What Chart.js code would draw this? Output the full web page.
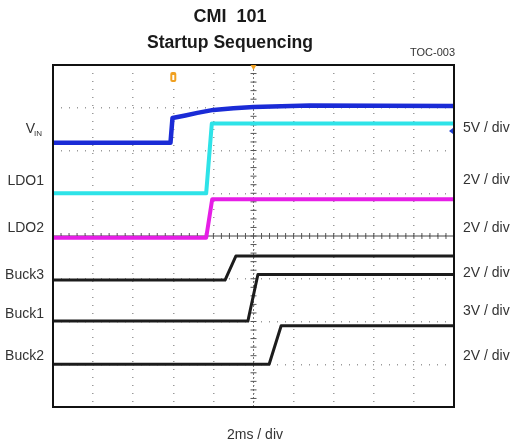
<!DOCTYPE html>
<html>
<head>
<meta charset="utf-8">
<script src="https://cdn.jsdelivr.net/npm/chart.js@4.4.0/dist/chart.umd.min.js"></script>
<style>
  html, body { margin: 0; padding: 0; background: #fff; }
  canvas { display: block; }
</style>
</head>
<body>
<canvas id="scope" width="515" height="447"></canvas>
<script>
// scope screen in divisions: 10 across (2ms/div), 8 high
const vinX = [0, 2.93, 2.98, 3.3, 3.6, 4.0, 4.5, 5.0, 6.4, 10];
const vinY = [6.18, 6.18, 6.76, 6.82, 6.88, 6.95, 6.99, 7.02, 7.05, 7.04];
const ldo1X = [0, 3.82, 3.96, 10];
const ldo1Y = [5.0, 5.0, 6.63, 6.63];
const ldo2X = [0, 3.82, 3.97, 10];
const ldo2Y = [3.96, 3.96, 4.86, 4.86];
const buck3X = [0, 4.29, 4.56, 10];
const buck3Y = [2.97, 2.97, 3.53, 3.53];
const buck1X = [0, 4.86, 5.11, 10];
const buck1Y = [2.01, 2.01, 3.10, 3.10];
const buck2X = [0, 5.39, 5.69, 10];
const buck2Y = [1.0, 1.0, 1.90, 1.90];

const leftLabels = ['LDO1', 'LDO2', 'Buck3', 'Buck1', 'Buck2'];
const rightLabels = ['5V / div', '2V / div', '2V / div', '2V / div', '3V / div', '2V / div'];
const triggerAt = 3.0;

const pts = (xs, ys) => xs.map((x, i) => ({x: x, y: ys[i]}));

const trace = (data, color, w) => ({
  data: data,
  borderColor: color,
  borderWidth: w,
  pointRadius: 0,
  tension: 0,
  borderJoinStyle: 'round',
});

// frame, centre cross with minor ticks, labels
const scopeDeco = {
  id: 'scopeDeco',
  beforeDatasetsDraw(chart) {
    const {ctx, chartArea: a, scales: {x, y}} = chart;
    const cx = x.getPixelForValue(5);
    const cy = y.getPixelForValue(4);
    ctx.save();
    ctx.strokeStyle = '#444';
    ctx.lineWidth = 1;
    ctx.beginPath();
    ctx.moveTo(a.left, cy);
    ctx.lineTo(a.right, cy);
    ctx.stroke();
    ctx.setLineDash([2, 2]);
    ctx.strokeStyle = '#777';
    ctx.beginPath();
    ctx.moveTo(cx, a.top);
    ctx.lineTo(cx, a.bottom);
    ctx.stroke();
    ctx.setLineDash([]);
    ctx.strokeStyle = '#555';
    for (let v = 0; v <= 10; v += 0.2) {
      const px = x.getPixelForValue(v);
      ctx.beginPath();
      ctx.moveTo(px, cy - 3);
      ctx.lineTo(px, cy + 3);
      ctx.stroke();
    }
    for (let v = 0; v <= 8; v += 0.2) {
      const py = y.getPixelForValue(v);
      ctx.beginPath();
      ctx.moveTo(cx - 3, py);
      ctx.lineTo(cx + 3, py);
      ctx.stroke();
    }
    ctx.restore();
  },
  afterDraw(chart) {
    const {ctx, chartArea: a, scales: {x}} = chart;
    ctx.save();
    ctx.strokeStyle = '#111';
    ctx.lineWidth = 2;
    ctx.strokeRect(a.left, a.top, a.right - a.left, a.bottom - a.top);

    // trigger markers
    const tx = x.getPixelForValue(triggerAt);
    ctx.fillStyle = '#f0a020';
    ctx.beginPath();
    ctx.roundRect(tx - 3, a.top + 7, 6, 10, 2);
    ctx.fill();
    ctx.fillStyle = '#fff';
    ctx.fillRect(tx - 1, a.top + 10, 2, 5);
    ctx.fillStyle = '#f0a020';
    const mx = x.getPixelForValue(5);
    ctx.beginPath();
    ctx.moveTo(mx - 3, a.top);
    ctx.lineTo(mx + 3, a.top);
    ctx.lineTo(mx, a.top + 5);
    ctx.fill();
    ctx.fillStyle = '#2040d0';
    ctx.beginPath();
    ctx.moveTo(a.right - 1, 128);
    ctx.lineTo(a.right - 1, 134);
    ctx.lineTo(a.right - 5, 131);
    ctx.fill();

    ctx.fillStyle = '#1a1a1a';
    ctx.textAlign = 'center';
    ctx.textBaseline = 'middle';
    ctx.font = 'bold 18px "Liberation Sans", Arial, sans-serif';
    ctx.fillText('CMI  101', 230, 17);
    ctx.fillText('Startup Sequencing', 230, 43, 166);

    ctx.fillStyle = '#333';
    ctx.font = '11px "Liberation Sans", Arial, sans-serif';
    ctx.textAlign = 'right';
    ctx.fillText('TOC-003', 455, 53);

    ctx.font = '14px "Liberation Sans", Arial, sans-serif';
    ctx.textAlign = 'right';
    ctx.fillText('V', 35, 129);
    ctx.font = '8px "Liberation Sans", Arial, sans-serif';
    ctx.textAlign = 'left';
    ctx.fillText('IN', 34, 134);
    ctx.font = '14px "Liberation Sans", Arial, sans-serif';
    ctx.textAlign = 'right';
    const leftY = [181, 228, 275, 314, 356];
    leftLabels.forEach((t, i) => ctx.fillText(t, 44, leftY[i]));
    ctx.textAlign = 'left';
    const rightY = [128, 180, 228, 273, 311, 356];
    rightLabels.forEach((t, i) => ctx.fillText(t, 463, rightY[i]));
    ctx.textAlign = 'center';
    ctx.fillText('2ms / div', 255, 435);
    ctx.restore();
  }
};

new Chart(document.getElementById('scope'), {
  type: 'line',
  data: {
    datasets: [
      trace(pts(buck2X, buck2Y), '#1c1c1c', 3),
      trace(pts(buck1X, buck1Y), '#1c1c1c', 3),
      trace(pts(buck3X, buck3Y), '#1c1c1c', 3),
      trace(pts(ldo2X, ldo2Y), '#e61ee6', 4),
      trace(pts(ldo1X, ldo1Y), '#2ee3e8', 4),
      trace(pts(vinX, vinY), '#1a2bd6', 4.5),
    ],
  },
  options: {
    responsive: false,
    animation: false,
    layout: {padding: {left: 53, top: 65, right: 61, bottom: 40}},
    plugins: {legend: {display: false}, tooltip: {enabled: false}},
    scales: {
      x: {
        type: 'linear', min: 0, max: 10,
        ticks: {display: false, stepSize: 1},
        grid: {color: '#9a9a9a', lineWidth: 1.5, drawTicks: false, tickLength: 0},
        border: {display: false, dash: [1, 7]},
      },
      y: {
        type: 'linear', min: 0, max: 8,
        ticks: {display: false, stepSize: 1},
        grid: {color: '#9a9a9a', lineWidth: 1.5, drawTicks: false, tickLength: 0},
        border: {display: false, dash: [1, 7]},
      },
    },
  },
  plugins: [scopeDeco],
});
</script>
</body>
</html>
